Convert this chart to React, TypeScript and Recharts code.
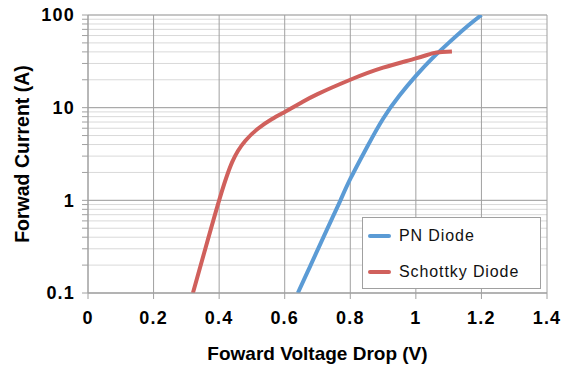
import React from 'react';
import {
  LineChart,
  Line,
  XAxis,
  YAxis,
  CartesianGrid,
  Legend,
} from 'recharts';

// forward voltage (V) / forward current (A)
const pnDiode = [
  { v: 0.64, i: 0.1 },
  { v: 0.67, i: 0.17 },
  { v: 0.7, i: 0.29 },
  { v: 0.74, i: 0.59 },
  { v: 0.77, i: 1.0 },
  { v: 0.8, i: 1.7 },
  { v: 0.85, i: 3.7 },
  { v: 0.9, i: 7.6 },
  { v: 0.95, i: 13.5 },
  { v: 1.0, i: 22 },
  { v: 1.05, i: 34 },
  { v: 1.1, i: 50 },
  { v: 1.15, i: 72 },
  { v: 1.2, i: 100 },
];

const schottkyDiode = [
  { v: 0.32, i: 0.1 },
  { v: 0.36, i: 0.32 },
  { v: 0.4, i: 1.0 },
  { v: 0.44, i: 2.6 },
  { v: 0.48, i: 4.4 },
  { v: 0.52, i: 6.0 },
  { v: 0.56, i: 7.5 },
  { v: 0.6, i: 9.0 },
  { v: 0.65, i: 11.3 },
  { v: 0.7, i: 14 },
  { v: 0.8, i: 20 },
  { v: 0.9, i: 27 },
  { v: 1.0, i: 34 },
  { v: 1.05, i: 38.5 },
  { v: 1.08, i: 39.8 },
  { v: 1.11, i: 40.3 },
];

const xTicks = [0, 0.2, 0.4, 0.6, 0.8, 1, 1.2, 1.4];
const decades = [0.1, 1, 10, 100];
const minorTicks = [
  0.2, 0.3, 0.4, 0.5, 0.6, 0.7, 0.8, 0.9,
  2, 3, 4, 5, 6, 7, 8, 9,
  20, 30, 40, 50, 60, 70, 80, 90,
];
const allYTicks = [...decades, ...minorTicks].sort((a, b) => a - b);

const series = [
  { name: 'PN Diode', color: '#5B9BD5', data: pnDiode },
  { name: 'Schottky Diode', color: '#D0605C', data: schottkyDiode },
];

const FONT = '"Liberation Sans", Arial, sans-serif';
const MAJOR = '#A0A0A0';
const MINOR = '#D9D9D9';

const fmt = (v: number) => String(Math.round(v * 10) / 10);

const LegendBox = () => (
  <div
    style={{
      width: 179,
      height: 72,
      boxSizing: 'border-box',
      border: `1px solid ${MAJOR}`,
      background: '#fff',
      fontFamily: FONT,
    }}
  >
    {series.map((s) => (
      <div
        key={s.name}
        style={{ height: 36, display: 'flex', alignItems: 'center' }}
      >
        <svg width={32} height={8} style={{ marginLeft: 4 }}>
          <line
            x1={3}
            y1={4}
            x2={22}
            y2={4}
            stroke={s.color}
            strokeWidth={4}
            strokeLinecap="round"
          />
        </svg>
        <span style={{ fontSize: 16, letterSpacing: 0.9, color: '#111' }}>
          {s.name}
        </span>
      </div>
    ))}
  </div>
);

export default function App() {
  return (
    <div style={{ position: 'absolute', left: 0, top: 0 }}>
      <LineChart
        width={574}
        height={369}
        margin={{ top: 15, right: 27, bottom: 9, left: 10 }}
        style={{ fontFamily: FONT }}
      >
        <CartesianGrid stroke={MINOR} vertical={false} />
        <CartesianGrid
          stroke={MAJOR}
          horizontalValues={decades}
          verticalValues={xTicks}
        />
        <XAxis
          dataKey="v"
          type="number"
          domain={[0, 1.4]}
          ticks={xTicks}
          tickFormatter={fmt}
          height={67}
          stroke={MAJOR}
          tickSize={6}
          tickMargin={12}
          tick={{ fill: '#000', fontSize: 18, fontWeight: 'bold', letterSpacing: 1.2 }}
          label={{
            value: 'Foward Voltage Drop (V)',
            position: 'insideBottom',
            offset: 0,
            style: { fill: '#000', fontSize: 19, fontWeight: 'bold' },
          }}
        />
        <YAxis
          dataKey="i"
          type="number"
          scale="log"
          domain={[0.1, 100]}
          allowDataOverflow
          ticks={allYTicks}
          interval={0}
          tickFormatter={(v: number) => (decades.includes(v) ? fmt(v) : '')}
          width={78}
          stroke={MAJOR}
          tickSize={6}
          tickMargin={7}
          tick={{ fill: '#000', fontSize: 18, fontWeight: 'bold', letterSpacing: 1.2 }}
          label={{
            value: 'Forwad Current (A)',
            angle: -90,
            position: 'insideLeft',
            offset: 12,
            style: { fill: '#000', fontSize: 19.5, fontWeight: 'bold', textAnchor: 'middle' },
          }}
        />
        {series.map((s) => (
          <Line
            key={s.name}
            data={s.data}
            dataKey="i"
            name={s.name}
            type="natural"
            stroke={s.color}
            strokeWidth={4}
            dot={false}
            isAnimationActive={false}
          />
        ))}
        <Legend
          layout="vertical"
          align="center"
          verticalAlign="middle"
          content={<LegendBox />}
          wrapperStyle={{ left: 362, top: 217, width: 179, height: 72 }}
        />
      </LineChart>
    </div>
  );
}
